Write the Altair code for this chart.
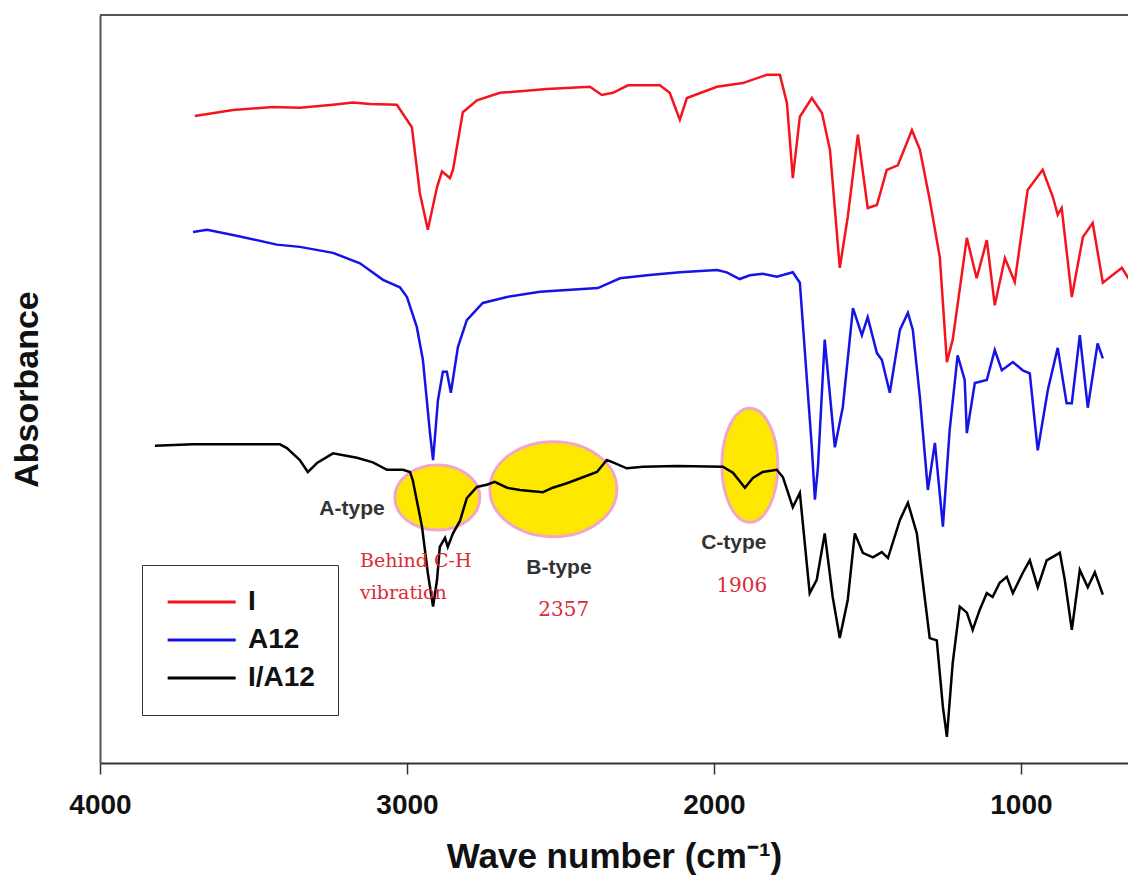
import altair as alt
import pandas as pd

# ---------------- data ----------------
SERIES = ["I", "A12", "I/A12"]
COLORS = ["#F5141E", "#1414E6", "#000000"]

I_WN = [3691, 3567, 3437, 3349, 3241, 3176, 3121, 3033, 2984, 2958, 2932, 2902, 2886, 2860, 2850,
        2818, 2772, 2697, 2544, 2404, 2365, 2329, 2280, 2176, 2144, 2111, 2088, 1990, 1906, 1828,
        1785, 1762, 1743, 1720, 1681, 1648, 1622, 1590, 1564, 1531, 1499, 1469, 1437, 1401, 1355,
        1329, 1297, 1264, 1241, 1222, 1176, 1144, 1111, 1085, 1052, 1020, 978, 929, 896, 880, 867,
        834, 798, 766, 733, 671, 636, 613]
I_ABS = [86.5, 87.3, 87.7, 87.6, 88.0, 88.3, 88.1, 88.0, 85.0, 76.2, 71.3, 77.0, 79.1, 78.2, 79.3,
         87.0, 88.6, 89.6, 90.1, 90.4, 89.3, 89.6, 90.6, 90.6, 89.6, 86.0, 88.9, 90.4, 90.9, 92.0,
         92.0, 88.2, 78.2, 86.4, 88.9, 86.9, 82.0, 66.2, 73.0, 84.0, 74.2, 74.6, 79.3, 79.9, 84.6,
         82.0, 75.3, 67.6, 53.6, 56.6, 70.2, 64.8, 69.9, 61.2, 67.5, 64.3, 76.6, 79.3, 75.7, 73.3, 74.2,
         62.3, 70.3, 72.2, 64.2, 66.2, 63.9, 64.8]

A12_WN = [3697, 3651, 3567, 3424, 3349, 3241, 3153, 3078, 3023, 3000, 2968, 2948, 2925, 2915, 2899,
          2883, 2870, 2857, 2834, 2805, 2753, 2674, 2567, 2378, 2306, 2218, 2111, 1990, 1958, 1916,
          1883, 1841, 1795, 1743, 1720, 1697, 1681, 1671, 1661, 1639, 1606, 1580, 1547, 1518, 1499,
          1469, 1453, 1427, 1394, 1368, 1352, 1329, 1303, 1280, 1254, 1232, 1206, 1183, 1176, 1150,
          1111, 1085, 1062, 1026, 994, 971, 945, 912, 880, 851, 834, 808, 782, 750, 733]
A12_ABS = [71.0, 71.3, 70.6, 69.3, 69.0, 68.2, 66.8, 64.6, 63.6, 62.3, 58.3, 53.9, 44.1, 40.5, 48.5,
           52.3, 52.3, 49.5, 55.6, 59.2, 61.5, 62.3, 63.0, 63.5, 64.8, 65.2, 65.6, 65.9, 65.6, 64.7,
           65.2, 65.4, 65.0, 65.6, 64.2, 51.2, 42.2, 35.2, 39.6, 56.6, 42.2, 47.6, 60.8, 57.2, 59.6,
           54.8, 53.9, 49.5, 57.9, 60.2, 57.9, 48.9, 36.5, 42.8, 31.6, 44.5, 54.5, 51.2, 44.1, 50.8,
           51.2, 55.2, 52.5, 53.6, 52.5, 52.1, 41.8, 49.9, 55.5, 48.1, 48.1, 57.2, 47.5, 56.1, 54.1]

IA12_WN = [3821, 3697, 3414, 3391, 3349, 3323, 3293, 3241, 3163, 3111, 3065, 3013, 2990, 2981, 2951,
           2932, 2915, 2902, 2893, 2876, 2867, 2850, 2827, 2805, 2772, 2740, 2714, 2674, 2632, 2557,
           2525, 2479, 2427, 2381, 2349, 2329, 2284, 2231, 2121, 1971, 1938, 1899, 1873, 1841, 1795,
           1775, 1743, 1720, 1688, 1665, 1639, 1613, 1590, 1564, 1541, 1515, 1482, 1453, 1433, 1394,
           1368, 1339, 1297, 1274, 1254, 1241, 1222, 1199, 1176, 1157, 1134, 1111, 1092, 1069, 1046,
           1026, 994, 971, 945, 916, 873, 857, 834, 808, 782, 759, 733]
IA12_ABS = [42.4, 42.6, 42.6, 42.1, 40.5, 38.9, 40.1, 41.4, 40.8, 40.2, 39.2, 39.2, 38.9, 37.8, 31.6,
            25.4, 20.9, 24.5, 28.9, 30.1, 28.9, 30.7, 32.4, 35.4, 36.9, 37.2, 37.6, 36.8, 36.5, 36.2,
            36.8, 37.4, 38.2, 38.9, 40.5, 40.2, 39.4, 39.6, 39.7, 39.6, 38.8, 36.8, 38.1, 38.9, 39.2,
            38.2, 34.2, 36.1, 22.7, 24.5, 30.7, 22.2, 16.7, 21.8, 30.7, 28.1, 27.5, 28.2, 27.4, 32.5,
            34.8, 30.7, 16.7, 16.4, 7.5, 3.5, 13.4, 20.9, 20.1, 17.8, 20.5, 22.7, 22.2, 24.1, 24.9,
            22.7, 25.4, 27.1, 23.5, 27.1, 28.1, 24.5, 17.8, 25.8, 23.5, 25.5, 22.5]

X_TICKS = [4000, 3000, 2000, 1000]

# highlighted regions (centre wavenumber / absorbance)
HL_WN = [2901, 2523, 1883]
HL_ABS = [35.5, 36.6, 39.8]
HL_W_PX = [85, 127, 56]      # ellipse width (style)
HL_H_PX = [65, 95, 114]      # ellipse height (style)

TYPE_TEXT = ["A-type", "B-type", "C-type"]
TYPE_WN = [3179, 2505, 1935]
TYPE_ABS = [34.0, 26.1, 29.4]

NOTE_TEXT = ["Behind C-H", "vibration"]
NOTE_WN = [3153, 3153]
NOTE_ABS = [27.0, 22.7]

NUM_TEXT = ["2357", "1906"]
NUM_WN = [2489, 1909]
NUM_ABS = [20.5, 23.7]

# ---------------- build tables ----------------
rows = []
for name, wn, ab in zip(SERIES, [I_WN, A12_WN, IA12_WN], [I_ABS, A12_ABS, IA12_ABS]):
    for w, a in zip(wn, ab):
        rows.append({"series": name, "wn": w, "abs": a})
spectra = pd.DataFrame(rows)


def ellipse_path(ratio):
    k = 0.5523
    r = ratio
    return (f"M 1 0 C 1 {k*r:.4f} {k} {r:.4f} 0 {r:.4f} "
            f"C {-k} {r:.4f} -1 {k*r:.4f} -1 0 "
            f"C -1 {-k*r:.4f} {-k} {-r:.4f} 0 {-r:.4f} "
            f"C {k} {-r:.4f} 1 {-k*r:.4f} 1 0 Z")


hl = pd.DataFrame({
    "wn": HL_WN, "abs": HL_ABS,
    "shape": [ellipse_path(h / w) for w, h in zip(HL_W_PX, HL_H_PX)],
    "size": [w * w for w in HL_W_PX],
})
types = pd.DataFrame({"wn": TYPE_WN, "abs": TYPE_ABS, "label": TYPE_TEXT})
notes = pd.DataFrame({"wn": NOTE_WN, "abs": NOTE_ABS, "label": NOTE_TEXT})
nums = pd.DataFrame({"wn": NUM_WN, "abs": NUM_ABS, "label": NUM_TEXT})

PLOT_W = 1028
PLOT_H = 748
SANS = "Liberation Sans"
SERIF = "DejaVu Serif"

# legend line symbol: a horizontal stroke 6 units long starting at the symbol's left edge
LEGEND_SYMBOL = "M -1 0 L 5 0"
LEGEND_SYMBOL_SIZE = 514      # (68 / 3)^2  -> 68 px long line

x_enc = alt.X(
    "wn:Q",
    scale=alt.Scale(domain=[4000, 651], nice=False, zero=False),
    axis=alt.Axis(
        values=X_TICKS, format="d", title="Wave number (cm⁻¹)", grid=False, labelFlush=False,
        domainColor="#333333", domainWidth=2, tickColor="#333333", tickWidth=1.5, tickSize=11,
        labelFont=SANS, labelFontWeight="bold", labelFontSize=28, labelColor="#111111",
        labelPadding=17, titleFont=SANS, titleFontWeight="bold", titleFontSize=35,
        titleColor="#111111", titlePadding=20,
    ),
)
y_enc = alt.Y(
    "abs:Q",
    scale=alt.Scale(domain=[0, 100], nice=False, zero=False),
    axis=alt.Axis(
        labels=False, ticks=False, grid=False, title="Absorbance",
        domainColor="#555555", domainWidth=2, minExtent=0, maxExtent=0,
        titleFont=SANS, titleFontWeight="bold", titleFontSize=34, titleColor="#111111",
        titlePadding=56,
    ),
)

frame_top = alt.Chart(pd.DataFrame({"k": [0]})).mark_rule(color="#555555", strokeWidth=2).encode(
    x=alt.value(0), x2=alt.value(PLOT_W), y=alt.value(0)
)

ellipses = alt.Chart(hl).mark_point(
    filled=True, fill="#FFE800", stroke="#F0A8C8", strokeWidth=3, opacity=1, fillOpacity=1
).encode(
    x=x_enc, y=y_enc,
    shape=alt.Shape("shape:N", scale=None),
    size=alt.Size("size:Q", scale=None),
)

lines = alt.Chart(spectra).mark_line(strokeWidth=2.5, clip=True).encode(
    x=x_enc, y=y_enc,
    color=alt.Color(
        "series:N",
        scale=alt.Scale(domain=SERIES, range=COLORS),
        sort=SERIES,
        legend=alt.Legend(
            title=None, orient="none", legendX=42, legendY=550,
            strokeColor="#333333", fillColor="#FFFFFF", padding=23,
            symbolType=LEGEND_SYMBOL, symbolSize=LEGEND_SYMBOL_SIZE, symbolStrokeWidth=3,
            labelFont=SANS, labelFontWeight="bold", labelFontSize=28, labelColor="#111111",
            labelOffset=55, rowPadding=10,
        ),
    ),
    detail="series:N",
)

type_text = alt.Chart(types).mark_text(
    font=SANS, fontWeight="bold", fontSize=21, color="#333333", align="center", baseline="middle"
).encode(x=x_enc, y=y_enc, text="label:N")

note_text = alt.Chart(notes).mark_text(
    font=SERIF, fontSize=19, color="#DC2A36", align="left", baseline="middle"
).encode(x=x_enc, y=y_enc, text="label:N")

num_text = alt.Chart(nums).mark_text(
    font=SERIF, fontSize=20, color="#DC2A36", align="center", baseline="middle"
).encode(x=x_enc, y=y_enc, text="label:N")

chart = alt.layer(
    frame_top, ellipses, lines, type_text, note_text, num_text
).properties(
    width=PLOT_W, height=PLOT_H,
    autosize=alt.AutoSizeParams(type="none"),
    padding={"left": 92, "top": 7, "right": 0, "bottom": 120},
    background="white",
).configure_view(strokeWidth=0)

chart.save("out.html", embed_options={"renderer": "svg", "actions": False})
